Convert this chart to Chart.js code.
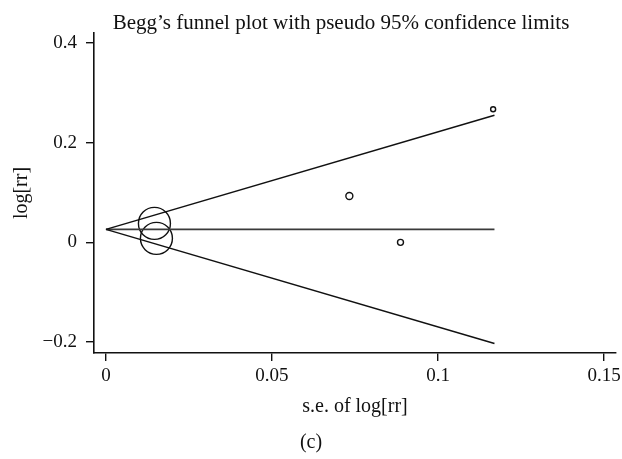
<!DOCTYPE html>
<html>
<head>
<meta charset="utf-8">
<script src="https://cdn.jsdelivr.net/npm/chart.js@4.4.1/dist/chart.umd.min.js"></script>
<style>
  html, body { margin: 0; padding: 0; background: #ffffff; }
  #wrap { position: relative; width: 622px; height: 459px; }
</style>
</head>
<body>
<div id="wrap"><canvas id="c" width="622" height="459"></canvas></div>
<script>
// ---- Data ----
const studySE = [0.0146, 0.0152, 0.0733, 0.0887, 0.1166];
const studyLogRR = [0.038, 0.008, 0.093, 0.000, 0.267];
const studyWeightRadius = [16, 16, 3.5, 3, 2.5];

const limitSE = [0, 0.117];
const upperLimit = [0.026, 0.255];
const lowerLimit = [0.026, -0.203];
const pooledLine = [0.026, 0.026];

const xTickValues = [0, 0.05, 0.1, 0.15];
const xTickLabels = ['0', '0.05', '0.1', '0.15'];
const yTickValues = [-0.2, 0, 0.2, 0.4];
const yTickLabels = ['\u22120.2', '0', '0.2', '0.4'];

const titleText = 'Begg\u2019s funnel plot with pseudo 95% confidence limits';
const xTitle = 's.e. of log[rr]';
const yTitle = 'log[rr]';
const captionText = '(c)';

// ---- Build datasets ----
const toPts = (xs, ys) => xs.map((x, i) => ({ x: x, y: ys[i] }));
const SERIF = '"Liberation Serif", "DejaVu Serif", serif';
const INK = '#111';

const textPlugin = {
  id: 'figureTexts',
  afterDraw(chart) {
    const ctx = chart.ctx;
    ctx.save();
    ctx.fillStyle = INK;
    ctx.textAlign = 'center';
    ctx.textBaseline = 'alphabetic';
    ctx.font = '21px ' + SERIF;
    ctx.fillText(titleText, 341, 29);
    ctx.font = '20px ' + SERIF;
    ctx.fillText(captionText, 311, 448);
    ctx.restore();
  }
};

new Chart(document.getElementById('c'), {
  type: 'scatter',
  data: {
    datasets: [
      {
        label: 'upper',
        data: toPts(limitSE, upperLimit),
        showLine: true, pointRadius: 0, borderColor: INK, borderWidth: 1.5, fill: false
      },
      {
        label: 'lower',
        data: toPts(limitSE, lowerLimit),
        showLine: true, pointRadius: 0, borderColor: INK, borderWidth: 1.5, fill: false
      },
      {
        label: 'pooled',
        data: toPts(limitSE, pooledLine),
        showLine: true, pointRadius: 0, borderColor: '#3a3a3a', borderWidth: 1.8, fill: false
      },
      {
        label: 'studies',
        data: toPts(studySE, studyLogRR),
        showLine: false,
        pointStyle: 'circle',
        pointRadius: studyWeightRadius,
        pointBackgroundColor: 'rgba(0,0,0,0)',
        pointBorderColor: INK,
        pointBorderWidth: 1.4
      }
    ]
  },
  options: {
    responsive: false,
    animation: false,
    devicePixelRatio: 1,
    layout: { autoPadding: false, padding: { top: 33, right: 6, bottom: 30, left: 0 } },
    plugins: {
      legend: { display: false },
      tooltip: { enabled: false },
      title: { display: false }
    },
    scales: {
      x: {
        type: 'linear',
        position: 'bottom',
        min: -0.0036,
        max: 0.1536,
        afterBuildTicks: (s) => { s.ticks = xTickValues.map(v => ({ value: v })); },
        afterFit: (s) => { s.height = 76; s.paddingLeft = 0; s.paddingRight = 0; },
        grid: { drawOnChartArea: false, drawTicks: true, tickLength: 8, color: INK, lineWidth: 1.4 },
        border: { display: true, color: INK, width: 1.6 },
        ticks: {
          padding: 4,
          color: INK,
          font: { family: SERIF, size: 19 },
          maxRotation: 0,
          callback: (v) => { const i = xTickValues.indexOf(v); return i >= 0 ? xTickLabels[i] : ''; }
        },
        title: {
          display: true, text: xTitle, color: INK,
          font: { family: SERIF, size: 20 }, padding: { top: 0, bottom: 10 }
        }
      },
      y: {
        type: 'linear',
        position: 'left',
        min: -0.222,
        max: 0.42,
        afterBuildTicks: (s) => { s.ticks = yTickValues.map(v => ({ value: v })); },
        afterFit: (s) => { s.width = 94; s.paddingTop = 0; s.paddingBottom = 0; },
        grid: { drawOnChartArea: false, drawTicks: true, tickLength: 8, color: INK, lineWidth: 1.4 },
        border: { display: true, color: INK, width: 1.6 },
        ticks: {
          padding: 9,
          color: INK,
          font: { family: SERIF, size: 19 },
          callback: (v) => { const i = yTickValues.indexOf(v); return i >= 0 ? yTickLabels[i] : ''; }
        },
        title: {
          display: true, text: yTitle, color: INK,
          font: { family: SERIF, size: 20 }, padding: { top: 10, bottom: 0 }
        }
      }
    }
  },
  plugins: [textPlugin]
});
</script>
</body>
</html>
